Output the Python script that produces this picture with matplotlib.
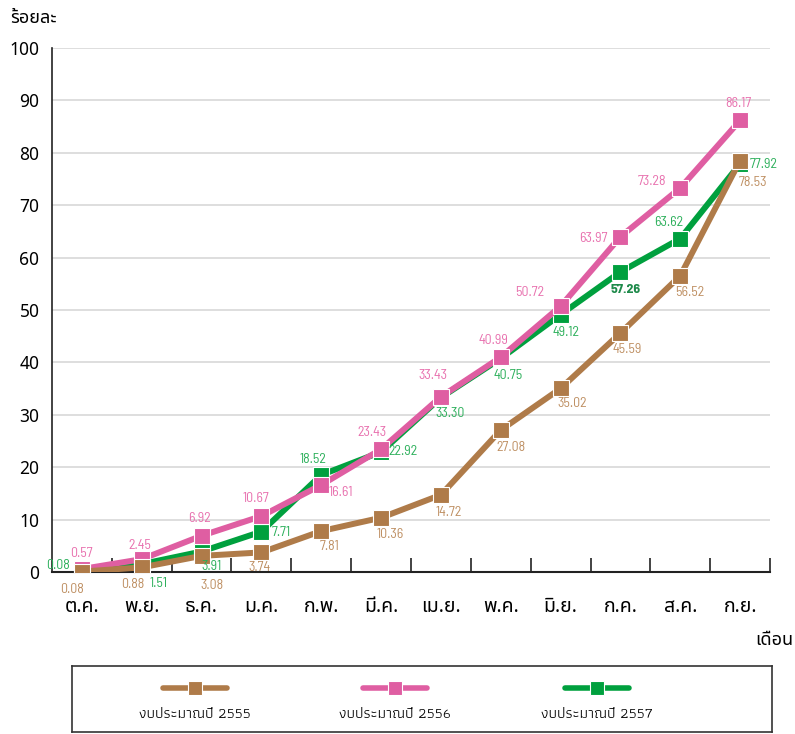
import matplotlib
matplotlib.use("Agg")
import matplotlib.pyplot as plt
from matplotlib import font_manager
from matplotlib.lines import Line2D

_installed = {f.name for f in font_manager.fontManager.ttflist}


def pick(candidates, default="DejaVu Sans"):
    for name in candidates:
        if name in _installed:
            return name
    return default


THAI = pick(["Noto Sans Thai", "IBM Plex Sans Thai", "Sarabun", "Anuphan"])
THAI_NARROW = pick(["Athiti", "Bai Jamjuree", "Anuphan"])
NUM = pick(["Barlow Semi Condensed", "Barlow Condensed", "Roboto Condensed",
            "Asap Condensed", "Archivo Narrow"])

months = ["ต.ค.", "พ.ย.", "ธ.ค.", "ม.ค.", "ก.พ.", "มี.ค.",
          "เม.ย.", "พ.ค.", "มิ.ย.", "ก.ค.", "ส.ค.", "ก.ย."]
budget_2555 = [0.08, 0.88, 3.08, 3.74, 7.81, 10.36, 14.72, 27.08, 35.02, 45.59, 56.52, 78.53]
budget_2556 = [0.57, 2.45, 6.92, 10.67, 16.61, 23.43, 33.43, 40.99, 50.72, 63.97, 73.28, 86.17]
budget_2557 = [0.08, 1.51, 3.91, 7.71, 18.52, 22.92, 33.30, 40.75, 49.12, 57.26, 63.62, 77.92]
series_names = ["งบประมาณปี 2555", "งบประมาณปี 2556", "งบประมาณปี 2557"]

# value label offsets in pixels (dx, dy)
off_2555 = [(-10, -18), (-9, -17), (10, -30), (-2, -15), (8, -15), (9, -17),
            (8, -18), (10, -17), (12, -15), (7, -16), (10, -17), (13, -22)]
off_2556 = [(0, 16), (-2, 14), (-2, 17), (-5, 18), (20, -8), (-9, 17),
            (-8, 21), (-7, 17), (-31, 14), (-27, -2), (-28, 7), (-2, 17)]
off_2557 = [(-24, 6), (17, -19), (10, -15), (20, -1), (-8, 15), (22, 0),
            (9, -16), (7, -17), (5, -18), (5, -18), (-12, 16), (24, -1)]

BROWN, PINK, GREEN = "#AF7B49", "#DF5EA2", "#00A03E"
BROWN_T, PINK_T, GREEN_T = "#BE8F62", "#E870AE", "#2BAF5A"

fig = plt.figure(figsize=(7.95, 7.34), dpi=100)
ax = fig.add_axes([52 / 795, 1 - 572 / 734, 718 / 795, 524 / 734])

x = list(range(len(months)))
series = [
    (budget_2557, GREEN, GREEN_T, off_2557, 2),
    (budget_2556, PINK, PINK_T, off_2556, 3),
    (budget_2555, BROWN, BROWN_T, off_2555, 4),
]
for vals, col, tcol, offs, z in series:
    ax.plot(x, vals, color=col, lw=4.3, marker="s", ms=11, mfc=col,
            mec="white", mew=0.8, zorder=z, solid_joinstyle="miter")
    for i, v in enumerate(vals):
        bold = (vals is budget_2557 and i == 9)
        ax.annotate(f"{v:.2f}", (i, v), xytext=offs[i], textcoords="offset pixels",
                    ha="center", va="center", fontsize=10, family=NUM,
                    color="#1E8A4A" if bold else tcol,
                    fontweight="bold" if bold else "normal", zorder=6)

ax.set_xlim(-0.5, 11.5)
ax.set_ylim(0, 100)
ax.set_yticks(range(0, 101, 10))
ax.set_yticklabels([str(v) for v in range(0, 101, 10)], fontsize=12.5, family=THAI)
ax.tick_params(axis="y", length=0, pad=9)
ax.yaxis.grid(True, color="#D8D8D8", lw=1.2)
ax.set_axisbelow(True)

ax.set_xticks(x)
ax.set_xticklabels(months, fontsize=14, family=[THAI, "DejaVu Sans"])
ax.tick_params(axis="x", which="major", length=0, pad=18)
ax.set_xticks([i + 0.5 for i in x], minor=True)
ax.tick_params(axis="x", which="minor", direction="in", length=10, width=1.2, color="#222222")

for s in ["top", "right"]:
    ax.spines[s].set_visible(False)
ax.spines["left"].set_color("#222222")
ax.spines["bottom"].set_color("#222222")
ax.spines["left"].set_linewidth(1.2)
ax.spines["bottom"].set_linewidth(1.5)

fig.text(10 / 795, 1 - 18 / 734, "ร้อยละ", fontsize=13, family=[THAI, "DejaVu Sans"],
         ha="left", va="center")
fig.text(793 / 795, 1 - 640 / 734, "เดือน", fontsize=13, family=[THAI, "DejaVu Sans"],
         ha="right", va="center")

# legend box
lax = fig.add_axes([72 / 795, 1 - 732 / 734, 700 / 795, 66 / 734])
lax.set_xlim(72, 772)
lax.set_ylim(732, 666)
lax.set_xticks([])
lax.set_yticks([])
for s in lax.spines.values():
    s.set_color("#333333")
    s.set_linewidth(1.2)
for cx, col, name in zip([195, 395, 597], [BROWN, PINK, GREEN], series_names):
    lax.add_line(Line2D([cx - 32, cx + 32], [688, 688], color=col, lw=4, solid_capstyle="round"))
    lax.add_line(Line2D([cx], [688], marker="s", ms=10.5, mfc=col, mec="white", mew=0.8, color=col))
    lax.text(cx, 714, name, ha="center", va="center", fontsize=11,
             family=[THAI_NARROW, "DejaVu Sans"])

fig.savefig("out.png", dpi=100)
